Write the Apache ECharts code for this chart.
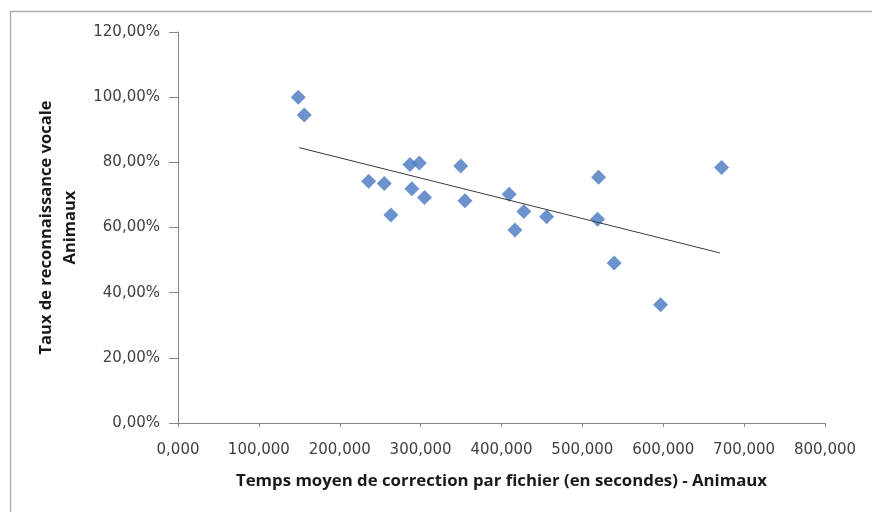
<!DOCTYPE html>
<html>
<head>
<meta charset="utf-8">
<script src="https://cdn.jsdelivr.net/npm/echarts@6/dist/echarts.min.js"></script>
<style>
html,body{margin:0;padding:0;background:#fff;}
#chart{width:872px;height:512px;}
</style>
</head>
<body>
<div id="chart"></div>
<script>
// Temps moyen de correction par fichier (secondes)
const timeValues = [148.7,156.1,235.7,255.0,263.3,286.8,298.3,289.2,304.8,349.6,354.8,409.5,416.6,427.7,455.8,520.0,518.8,539.3,596.7,672.1];
// Taux de reconnaissance vocale (fraction)
const rateValues = [1.000,0.945,0.742,0.735,0.638,0.793,0.798,0.719,0.692,0.789,0.682,0.702,0.592,0.649,0.633,0.754,0.625,0.491,0.363,0.784];
// Linear trendline endpoints
const trendTime = [149.9, 670.0];
const trendRate = [0.845, 0.522];

const xTitle = 'Temps moyen de correction par fichier (en secondes) - Animaux';
const yTitle = 'Taux de reconnaissance vocale\nAnimaux';

const points = timeValues.map((t, i) => [t, rateValues[i]]);
const trend = trendTime.map((t, i) => [t, trendRate[i]]);

const tickFont = '"DejaVu Sans", sans-serif';
const titleFont = '"Open Sans", sans-serif';
const chart = echarts.init(document.getElementById('chart'), null, {renderer: 'canvas'});
chart.setOption({
  animation: false,
  backgroundColor: '#fff',
  graphic: [{
    type: 'rect', left: 8, top: 9, z: -1,
    shape: {width: 900, height: 520},
    style: {fill: 'none', stroke: '#b0b0b0', lineWidth: 1.5}
  }],
  grid: {left: 178, right: 47, top: 32, bottom: 89, containLabel: false},
  xAxis: {
    type: 'value', min: 0, max: 800, interval: 100,
    splitLine: {show: false},
    axisLine: {lineStyle: {color: '#868686'}},
    axisTick: {show: true, length: 4, lineStyle: {color: '#868686'}},
    axisLabel: {
      color: '#404040', fontFamily: tickFont, fontSize: 15, margin: 20,
      formatter: v => v.toFixed(3).replace('.', ',')
    },
    name: xTitle, nameLocation: 'middle', nameGap: 50,
    nameTextStyle: {fontFamily: titleFont, fontSize: 16.8, fontWeight: 'bold', color: '#1a1a1a'}
  },
  yAxis: {
    type: 'value', min: 0, max: 1.2, interval: 0.2,
    splitLine: {show: false},
    axisLine: {show: true, lineStyle: {color: '#868686'}},
    axisTick: {show: true, length: 9, lineStyle: {color: '#868686'}},
    axisLabel: {
      color: '#404040', fontFamily: tickFont, fontSize: 15, margin: 18,
      formatter: v => (v * 100).toFixed(2).replace('.', ',') + '%'
    },
    name: yTitle, nameLocation: 'middle', nameGap: 94,
    nameTextStyle: {fontFamily: titleFont, fontSize: 16.5, fontWeight: 'bold', color: '#1a1a1a', lineHeight: 24}
  },
  series: [
    {
      type: 'scatter', data: points, symbol: 'diamond', symbolSize: 15,
      itemStyle: {color: '#4677c0'}
    },
    {
      type: 'line', data: trend, symbol: 'none',
      lineStyle: {color: '#3a3a3a', width: 1}
    }
  ]
});
</script>
</body>
</html>
